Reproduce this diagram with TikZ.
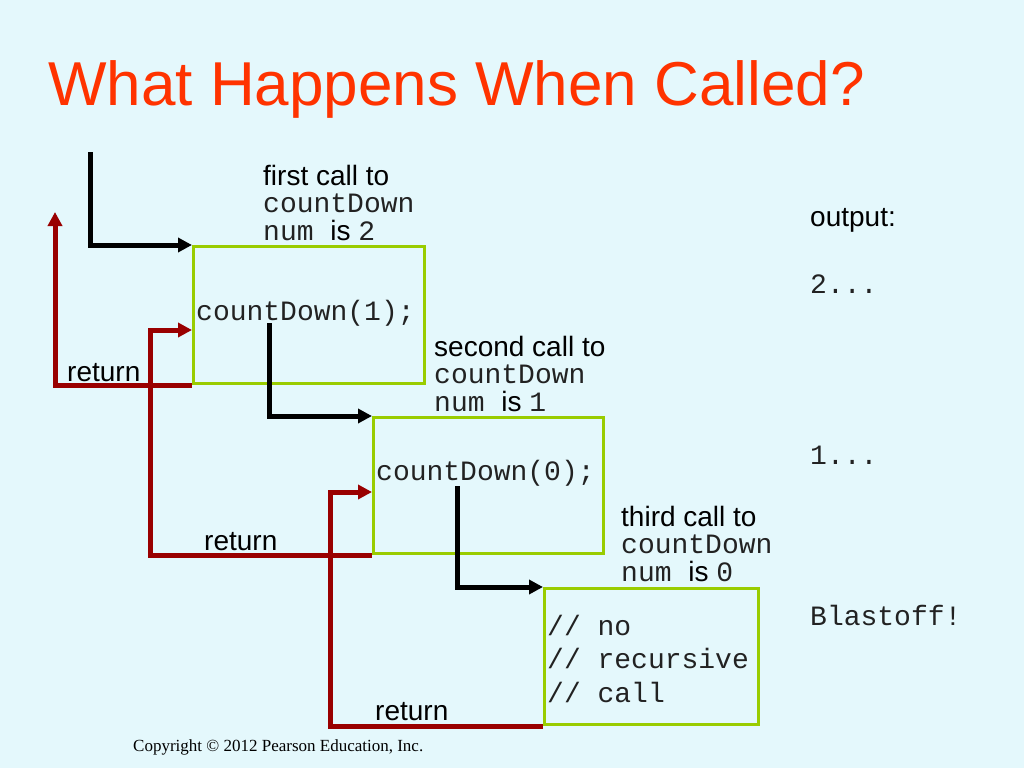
\documentclass[tikz,border=0pt]{standalone}
\usepackage{fontspec}
\setmainfont{Liberation Sans}
\setmonofont{Liberation Mono}
\newfontfamily\timesf{Liberation Serif}
\usetikzlibrary{arrows.meta}
\definecolor{bg}{HTML}{E4F8FC}
\definecolor{ttl}{HTML}{FF3300}
\definecolor{ret}{HTML}{990000}
\definecolor{frm}{HTML}{99CC00}
\definecolor{codec}{HTML}{222222}
\begin{document}
\begin{tikzpicture}[x=1pt,y=-1pt,
  txt/.style={inner sep=0pt,anchor=base west,font=\fontsize{28}{28}\selectfont},
  code/.style={inner sep=0pt,anchor=base west,text=codec,font=\fontsize{28}{28}\selectfont\ttfamily},
  frame/.style={draw=frm,line width=3pt,anchor=north west,inner sep=0pt},
  callline/.style={draw=black,line width=5pt,-{Triangle[length=14pt,width=14pt]}},
  retline/.style={draw=ret,line width=5pt,-{Triangle[length=14pt,width=14pt]}}]
\fill[bg] (0,0) rectangle (1024,768);
\useasboundingbox (0,0) rectangle (1024,768);
% title
\node[inner sep=0pt,anchor=base west,text=ttl,font=\fontsize{62}{62}\selectfont] (title) at (48,105) {What Happens When Called?};
% boxes
\node[frame,minimum width=231pt,minimum height=137pt] (b1) at (192,245) {};
\node[frame,minimum width=230pt,minimum height=136pt] (b2) at (372,416) {};
\node[frame,minimum width=214pt,minimum height=136pt] (b3) at (543,587) {};
% box contents
\node[code] (c1) at (196,320) {countDown(1);};
\node[code] (c2) at (376,480) {countDown(0);};
\node[code] (c3a) at (547,635) {// no};
\node[code] (c3b) at (547,668) {// recursive};
\node[code] (c3c) at (547,702) {// call};
% call labels
\node[txt] (l1a) at (263,185) {first call to};
\node[code] (l1b) at (263,212) {countDown};
\node[txt] (l1c) at (263,240) {{\ttfamily\color{codec}num }is {\ttfamily\color{codec}2}};
\node[txt] (l2a) at (434,356) {second call to};
\node[code] (l2b) at (434,383) {countDown};
\node[txt] (l2c) at (434,411) {{\ttfamily\color{codec}num }is {\ttfamily\color{codec}1}};
\node[txt] (l3a) at (621,526) {third call to};
\node[code] (l3b) at (621,553) {countDown};
\node[txt] (l3c) at (621,581) {{\ttfamily\color{codec}num }is {\ttfamily\color{codec}0}};
% output
\node[txt] (out) at (810,226) {output:};
\node[code] (o1) at (810,293) {2...};
\node[code] (o2) at (810,464) {1...};
\node[code] (o3) at (810,625) {Blastoff!};
% call connectors
\coordinate (s1) at (90,152);
\coordinate (s2) at (269,323);
\coordinate (s3) at (457,486);
\draw[callline] (s1) |- (b1.north west);
\draw[callline] (s2) |- (b2.north west);
\draw[callline] (s3) |- (b3.north west);
% return connectors
\coordinate (r1) at (55,212);
\coordinate (r2) at (150,330);
\coordinate (r3) at (330,492);
\draw[retline] (b1.south west) -| (r1);
\draw[retline] (b2.south west) -| (r2) -- (r2 -| b1.west);
\draw[retline] (b3.south west) -| (r3) -- (r3 -| b2.west);
% return labels
\node[txt] (t1) at (67,381) {return};
\node[txt] (t2) at (204,550) {return};
\node[txt] (t3) at (375,720) {return};
% copyright
\node[inner sep=0pt,anchor=base west,font=\fontsize{17}{17}\selectfont\timesf] (copy) at (133,751) {Copyright © 2012 Pearson Education, Inc.};
\end{tikzpicture}
\end{document}
